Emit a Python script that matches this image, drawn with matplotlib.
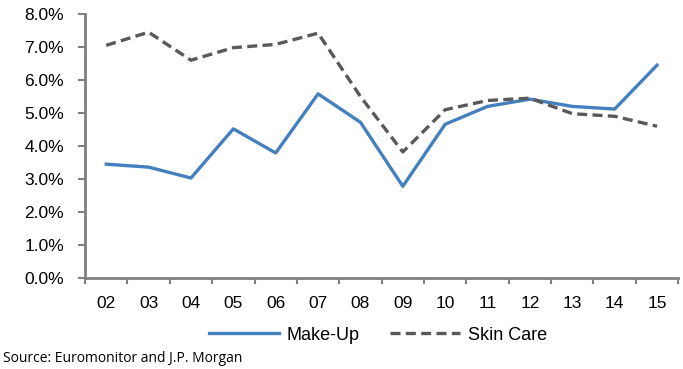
import matplotlib
matplotlib.use('Agg')
import matplotlib.pyplot as plt
from matplotlib.ticker import FuncFormatter, FixedLocator

years = ['02', '03', '04', '05', '06', '07', '08', '09', '10', '11', '12', '13', '14', '15']
makeup = [3.45, 3.36, 3.03, 4.52, 3.79, 5.58, 4.72, 2.78, 4.66, 5.20, 5.42, 5.20, 5.12, 6.45]
skincare = [7.05, 7.45, 6.60, 6.98, 7.08, 7.42, 5.50, 3.82, 5.10, 5.38, 5.45, 4.98, 4.90, 4.60]

plt.rcParams['font.family'] = ['Liberation Sans', 'DejaVu Sans']

fig = plt.figure(figsize=(6.83, 3.69), dpi=100)
ax = fig.add_axes([0.1245, 0.2466, 0.8685, 0.7154])

x = list(range(len(years)))
ax.plot(x, makeup, color='#4580BE', lw=2.4, label='Make-Up')
ax.plot(x, skincare, color='#595959', lw=2.4, ls=(0, (3, 1.6)), label='Skin Care')

ax.set_xlim(-0.5, len(years) - 0.5)
ax.set_ylim(0, 8)
ax.set_yticks([i for i in range(9)])
ax.yaxis.set_major_formatter(FuncFormatter(lambda v, p: f'{v:.1f}%'))
ax.set_xticks(x)
ax.set_xticklabels(years)
ax.xaxis.set_minor_locator(FixedLocator([i - 0.5 for i in range(len(years) + 1)]))
ax.tick_params(axis='x', which='major', length=0, pad=13)
ax.tick_params(axis='x', which='minor', length=4, width=1.5, color='#808080', direction='out')
ax.tick_params(axis='y', length=5, width=1.5, color='#808080', direction='out', pad=10)
ax.tick_params(labelsize=12.5, labelcolor='#000000')

for s in ['top', 'right']:
    ax.spines[s].set_visible(False)
for s in ['left', 'bottom']:
    ax.spines[s].set_color('#808080')
    ax.spines[s].set_linewidth(2)

leg = fig.legend(loc='center', bbox_to_anchor=(0.553, 0.092), ncol=2, frameon=False,
                 fontsize=13, handlelength=3.9, columnspacing=1.7, handletextpad=0.4)

fig.text(0.004, 0.008, 'Source: Euromonitor and J.P. Morgan', fontsize=10,
         family=['Open Sans', 'DejaVu Sans'], ha='left', va='bottom')

fig.savefig('out.png', dpi=100)
